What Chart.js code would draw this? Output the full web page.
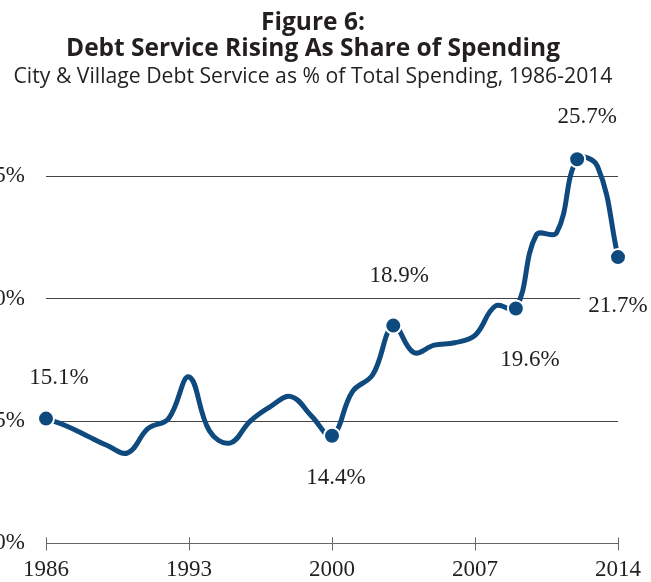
<!DOCTYPE html>
<html>
<head>
<meta charset="utf-8">
<script src="https://cdn.jsdelivr.net/npm/chart.js@4"></script>
<style>
  html, body { margin: 0; padding: 0; background: #fff; }
  #wrap { position: relative; width: 651px; height: 582px; overflow: hidden; }
  #chart { position: absolute; left: -21px; top: 0; }
</style>
</head>
<body>
<div id="wrap"><canvas id="chart" width="668" height="582"></canvas></div>
<script>
// values
const years = [1986, 1987, 1988, 1989, 1990, 1991, 1992, 1993, 1994, 1995,
  1996, 1997, 1998, 1999, 2000, 2001, 2002, 2003, 2004, 2005,
  2006, 2007, 2008, 2009, 2010, 2011, 2012, 2013, 2014];
const debtShare = [15.1, 14.8, 14.4, 14.0, 13.7, 14.7, 15.1, 16.8, 14.6, 14.1,
  15.0, 15.6, 16.0, 15.2, 14.4, 16.2, 16.9, 18.9, 17.8, 18.1,
  18.2, 18.5, 19.7, 19.6, 22.6, 22.7, 25.7, 25.4, 21.7];
const labeledYears = [1986, 2000, 2003, 2009, 2012, 2014];
const yTicks = [10, 15, 20, 25];
const yTop = 27; // headroom so the 25.7 marker stays inside the plot
const xTicks = [1986, 1993, 2000, 2007, 2014];

const BLUE = "#0f4a7f";
const SERIF = "'Liberation Serif', 'Times New Roman', serif";
const SANS = "'Open Sans', Lato, sans-serif";

// where each value label sits relative to its marker
const labelOffsets = {
  1986: [13, -41], 2000: [4, 42], 2003: [6, -50],
  2009: [14, 51], 2012: [10, -42], 2014: [0, 49]
};

const points = years.map((y, i) => ({ x: y, y: debtShare[i] }));

const valueLabels = {
  id: "valueLabels",
  afterDatasetsDraw(chart) {
    const ctx = chart.ctx;
    const meta = chart.getDatasetMeta(0);
    ctx.save();
    ctx.font = "23px " + SERIF;
    ctx.textAlign = "center";
    ctx.textBaseline = "middle";
    labeledYears.forEach(yr => {
      const i = years.indexOf(yr);
      const pt = meta.data[i];
      const off = labelOffsets[yr];
      const text = debtShare[i].toFixed(1) + "%";
      const x = pt.x + off[0], y = pt.y + off[1];
      if (yr === 2014) {
        const w = ctx.measureText(text).width;
        ctx.fillStyle = "#fff";
        ctx.fillRect(x - w / 2 - 8, y - 13, w + 16, 26);
      }
      ctx.fillStyle = "#231f20";
      ctx.fillText(text, x, y);
    });
    ctx.restore();
  }
};

// x tick marks cross the axis line, draw the upper half
const upperTicks = {
  id: "upperTicks",
  afterDraw(chart) {
    const ctx = chart.ctx;
    const xs = chart.scales.x;
    ctx.save();
    ctx.strokeStyle = "#666";
    ctx.lineWidth = 1;
    xs.ticks.forEach((t, i) => {
      const px = Math.round(xs.getPixelForTick(i)) + 0.5;
      ctx.beginPath();
      ctx.moveTo(px, xs.top - 6);
      ctx.lineTo(px, xs.top);
      ctx.stroke();
    });
    ctx.restore();
  }
};

new Chart(document.getElementById("chart"), {
  type: "line",
  data: {
    datasets: [{
      data: points,
      borderColor: BLUE,
      borderWidth: 5,
      tension: 0.4,
      clip: false,
      pointBackgroundColor: BLUE,
      pointBorderColor: "#fff",
      pointBorderWidth: 2,
      pointRadius: ctx => labeledYears.includes(years[ctx.dataIndex]) ? 8 : 0,
      pointHoverRadius: 0
    }]
  },
  options: {
    responsive: false,
    devicePixelRatio: 1,
    animation: false,
    layout: { padding: { top: 0, right: 0, bottom: -8, left: 0 } },
    plugins: {
      legend: { display: false },
      tooltip: { enabled: false },
      title: {
        display: true,
        text: ["Figure 6:", "Debt Service Rising As Share of Spending"],
        color: "#231f20",
        font: { family: SANS, size: 24.5, weight: "bold", lineHeight: 1.06 },
        padding: { top: 10, bottom: 0 }
      },
      subtitle: {
        display: true,
        text: "City & Village Debt Service as % of Total Spending, 1986-2014",
        color: "#231f20",
        font: { family: SANS, size: 21.2, lineHeight: 1.2 },
        padding: { top: 2, bottom: 38 }
      }
    },
    scales: {
      x: {
        type: "linear",
        min: years[0],
        max: years[years.length - 1],
        afterBuildTicks: s => { s.ticks = xTicks.map(v => ({ value: v })); },
        ticks: {
          color: "#231f20",
          font: { family: SERIF, size: 23 },
          padding: 6,
          maxRotation: 0,
          callback: v => String(v)
        },
        grid: { drawOnChartArea: false, drawTicks: true, tickLength: 7, color: "#666" },
        border: { color: "#666", width: 1 }
      },
      y: {
        min: yTicks[0],
        max: yTop,
        afterBuildTicks: s => { s.ticks = yTicks.map(v => ({ value: v })); },
        afterFit: s => { s.width = 67; },
        ticks: {
          color: "#231f20",
          font: { family: SERIF, size: 23 },
          padding: 21,
          callback: v => v + "%"
        },
        grid: {
          drawTicks: false,
          color: c => c.tick.value === yTicks[0] ? "rgba(0,0,0,0)" : "#444",
          lineWidth: 1
        },
        border: { display: false }
      }
    }
  },
  plugins: [valueLabels, upperTicks]
});
</script>
</body>
</html>
